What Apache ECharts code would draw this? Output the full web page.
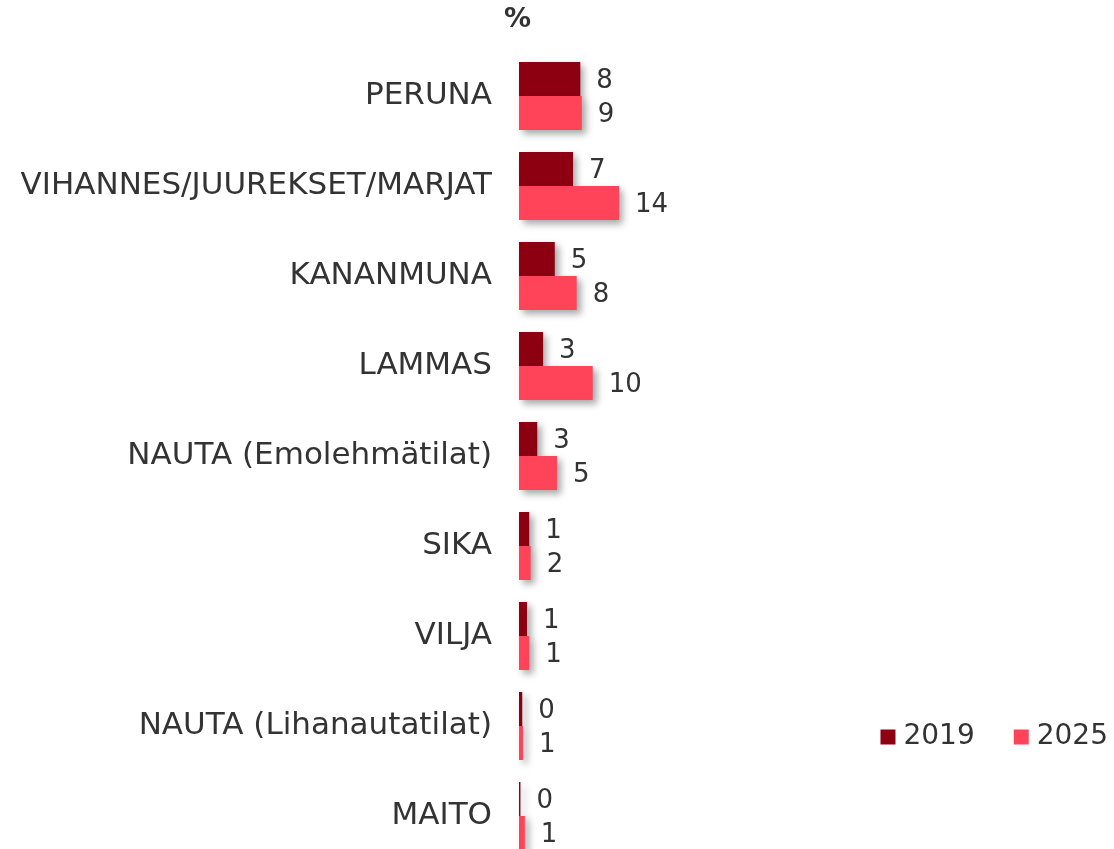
<!DOCTYPE html>
<html>
<head>
<meta charset="utf-8">
<script src="https://cdn.jsdelivr.net/npm/echarts@6/dist/echarts.min.js"></script>
<style>
html,body{margin:0;padding:0;background:#fff;}
#c{width:1114px;height:849px;}
</style>
</head>
<body>
<div id="c"></div>
<script>
const categories = ['PERUNA','VIHANNES/JUUREKSET/MARJAT','KANANMUNA','LAMMAS','NAUTA (Emolehmätilat)','SIKA','VILJA','NAUTA (Lihanautatilat)','MAITO'];
const seriesNames = ['2019','2025'];
const values2019 = [8.4, 7.4, 4.9, 3.3, 2.5, 1.4, 1.1, 0.45, 0.2];
const values2025 = [8.6, 13.7, 7.9, 10.1, 5.2, 1.6, 1.4, 0.55, 0.8];
const colors = ['#8C0012', '#FF4359'];

const FONT = "'DejaVu Sans', Verdana, sans-serif";
const TXT = '#333333';

function mkSeries(name, data, color){
  return {
    name: name,
    type: 'bar',
    data: data,
    barWidth: 34,
    barGap: '0%',
    itemStyle: {
      color: color,
      shadowBlur: 7,
      shadowColor: 'rgba(0,0,0,0.35)',
      shadowOffsetX: 4,
      shadowOffsetY: 4
    },
    label: {
      show: true,
      position: 'right',
      distance: 15,
      offset: [1, 2],
      fontFamily: FONT,
      fontSize: 26,
      color: TXT,
      formatter: p => String(Math.round(p.value))
    }
  };
}

const chart = echarts.init(document.getElementById('c'), null, {renderer: 'canvas'});
chart.setOption({
  animation: false,
  backgroundColor: '#fff',
  title: {
    text: '%',
    left: 499,
    top: 1,
    textStyle: {fontFamily: FONT, fontSize: 27, fontWeight: 'bold', color: TXT}
  },
  legend: {
    data: seriesNames,
    right: 6,
    top: 723,
    padding: 0,
    itemWidth: 15,
    itemHeight: 15,
    itemGap: 39,
    icon: 'rect',
    textStyle: {fontFamily: FONT, fontSize: 28, color: TXT, padding: [0,0,0,3]}
  },
  grid: {
    left: 519,
    top: 51,
    width: 146,
    height: 810,
    outerBoundsMode: 'none',
    containLabel: false
  },
  xAxis: {
    type: 'value',
    min: 0,
    max: 20,
    show: false
  },
  yAxis: {
    type: 'category',
    data: categories,
    inverse: true,
    axisLine: {show: false},
    axisTick: {show: false},
    splitLine: {show: false},
    axisLabel: {
      margin: 27,
      fontFamily: FONT,
      fontSize: 31,
      color: TXT,
      verticalAlign: 'middle',
      padding: [6, 0, 0, 0]
    }
  },
  series: [
    mkSeries(seriesNames[0], values2019, colors[0]),
    mkSeries(seriesNames[1], values2025, colors[1])
  ]
});
</script>
</body>
</html>
